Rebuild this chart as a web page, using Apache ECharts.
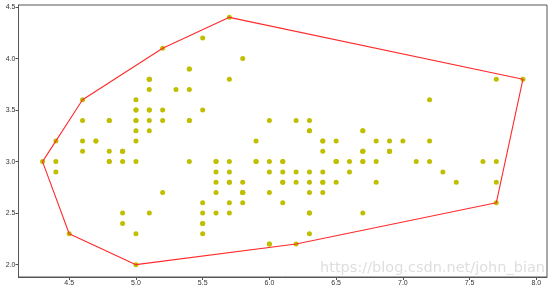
<!DOCTYPE html>
<html>
<head>
<meta charset="utf-8">
<script src="https://cdn.jsdelivr.net/npm/echarts@6/dist/echarts.min.js"></script>
<style>html,body{margin:0;padding:0;background:#fff}#c{width:554px;height:288px}</style>
</head>
<body>
<div id="c"></div>
<script>
var sepalLength = [5.1,4.9,4.7,4.6,5.0,5.4,4.6,5.0,4.4,4.9,5.4,4.8,4.8,4.3,5.8,5.7,5.4,5.1,5.7,5.1,5.4,5.1,4.6,5.1,4.8,5.0,5.0,5.2,5.2,4.7,4.8,5.4,5.2,5.5,4.9,5.0,5.5,4.9,4.4,5.1,5.0,4.5,4.4,5.0,5.1,4.8,5.1,4.6,5.3,5.0,
7.0,6.4,6.9,5.5,6.5,5.7,6.3,4.9,6.6,5.2,5.0,5.9,6.0,6.1,5.6,6.7,5.6,5.8,6.2,5.6,5.9,6.1,6.3,6.1,6.4,6.6,6.8,6.7,6.0,5.7,5.5,5.5,5.8,6.0,5.4,6.0,6.7,6.3,5.6,5.5,5.5,6.1,5.8,5.0,5.6,5.7,5.7,6.2,5.1,5.7,
6.3,5.8,7.1,6.3,6.5,7.6,4.9,7.3,6.7,7.2,6.5,6.4,6.8,5.7,5.8,6.4,6.5,7.7,7.7,6.0,6.9,5.6,7.7,6.3,6.7,7.2,6.2,6.1,6.4,7.2,7.4,7.9,6.4,6.3,6.1,7.7,6.3,6.4,6.0,6.9,6.7,6.9,5.8,6.8,6.7,6.7,6.3,6.5,6.2,5.9];
var sepalWidth = [3.5,3.0,3.2,3.1,3.6,3.9,3.4,3.4,2.9,3.1,3.7,3.4,3.0,3.0,4.0,4.4,3.9,3.5,3.8,3.8,3.4,3.7,3.6,3.3,3.4,3.0,3.4,3.5,3.4,3.2,3.1,3.4,4.1,4.2,3.1,3.2,3.5,3.1,3.0,3.4,3.5,2.3,3.2,3.5,3.8,3.0,3.8,3.2,3.7,3.3,
3.2,3.2,3.1,2.3,2.8,2.8,3.3,2.4,2.9,2.7,2.0,3.0,2.2,2.9,2.9,3.1,3.0,2.7,2.2,2.5,3.2,2.8,2.5,2.8,2.9,3.0,2.8,3.0,2.9,2.6,2.4,2.4,2.7,2.7,3.0,3.4,3.1,2.3,3.0,2.5,2.6,3.0,2.6,2.3,2.7,3.0,2.9,2.9,2.5,2.8,
3.3,2.7,3.0,2.9,3.0,3.0,2.5,2.9,2.5,3.6,3.2,2.7,3.0,2.5,2.8,3.2,3.0,3.8,2.6,2.2,3.2,2.8,2.8,2.7,3.3,3.2,2.8,3.0,2.8,3.0,2.8,3.8,2.8,2.8,2.6,3.0,3.4,3.1,3.0,3.1,3.1,3.1,2.7,3.2,3.3,3.0,2.5,3.0,3.4,3.0];
var hullX = [4.3,4.5,5.0,6.2,7.7,7.9,5.7,5.2,4.6,4.3];
var hullY = [3.0,2.3,2.0,2.2,2.6,3.8,4.4,4.1,3.6,3.0];
var xTicks = [4.5,5.0,5.5,6.0,6.5,7.0,7.5,8.0];
var yTicks = [2.0,2.5,3.0,3.5,4.0,4.5];

var pts = sepalLength.map(function(v,i){return [v, sepalWidth[i]];});
var hull = hullX.map(function(v,i){return [v, hullY[i]];});

var chart = echarts.init(document.getElementById('c'));
chart.setOption({
  animation:false,
  grid:{left:18.5,right:7,top:5,bottom:11,show:true,borderColor:'#555',borderWidth:1,containLabel:false},
  xAxis:{type:'value',min:4.12,max:8.08,
    axisLine:{show:true,lineStyle:{color:'#555'}},
    axisTick:{show:true,length:3,lineStyle:{color:'#555'},customValues:xTicks},
    axisLabel:{fontSize:7,color:'#333',margin:3,customValues:xTicks,formatter:function(v){return v.toFixed(1);}},
    splitLine:{show:false}},
  yAxis:{type:'value',min:1.88,max:4.52,
    axisLine:{show:true,lineStyle:{color:'#555'}},
    axisTick:{show:true,length:3,lineStyle:{color:'#555'},customValues:yTicks},
    axisLabel:{fontSize:7,color:'#333',margin:3,customValues:yTicks,formatter:function(v){return v.toFixed(1);}},
    splitLine:{show:false}},
  series:[
    {type:'scatter',data:pts,symbolSize:5,itemStyle:{color:'#bfbf00',opacity:1},z:2},
    {type:'line',data:hull,showSymbol:false,symbol:'none',lineStyle:{color:'#ff2a2a',width:1.1},z:3}
  ],
  graphic:[{type:'text',right:9,bottom:12,style:{text:'https://blog.csdn.net/john_bian',font:'14.5px "DejaVu Sans"',fill:'rgba(200,200,200,0.6)'}}]
});
</script>
</body>
</html>
